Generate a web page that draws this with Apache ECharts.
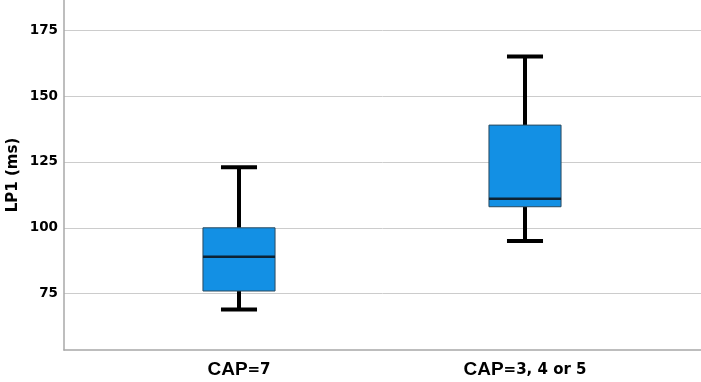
<!DOCTYPE html>
<html>
<head>
<meta charset="utf-8">
<script src="https://cdn.jsdelivr.net/npm/echarts@6/dist/echarts.min.js"></script>
<style>
  html, body { margin: 0; padding: 0; background: #fff; }
  #box { width: 701px; height: 382px; }
</style>
</head>
<body>
<div id="box"></div>
<script>
// 数据
var categories = ['CAP=7', 'CAP=3, 4 or 5'];
var whiskerLow = [69, 95];
var q1 = [76, 108];
var median = [89, 111];
var q3 = [100, 139];
var whiskerHigh = [123, 165];
var yTicks = [75, 100, 125, 150, 175];
var yMin = 53.6, yMax = 186.5;

var chart = echarts.init(document.getElementById('box'));

var boxData = [];
for (var i = 0; i < categories.length; i++) {
    boxData.push([i, whiskerLow[i], q1[i], median[i], q3[i], whiskerHigh[i]]);
}

function renderBox(params, api) {
    var x = api.value(0);
    var lo = api.coord([x, api.value(1)]);
    var b1 = api.coord([x, api.value(2)]);
    var md = api.coord([x, api.value(3)]);
    var b3 = api.coord([x, api.value(4)]);
    var hi = api.coord([x, api.value(5)]);
    var bw = api.size([1, 0])[0] * 0.252;
    var cw = bw / 2;
    var cx = lo[0];
    var whisk = { stroke: '#000', lineWidth: 4 };
    return {
        type: 'group',
        children: [
            { type: 'line', shape: { x1: cx, y1: hi[1], x2: cx, y2: b3[1] }, style: whisk },
            { type: 'line', shape: { x1: cx, y1: b1[1], x2: cx, y2: lo[1] }, style: whisk },
            { type: 'line', shape: { x1: cx - cw / 2, y1: hi[1], x2: cx + cw / 2, y2: hi[1] }, style: whisk },
            { type: 'line', shape: { x1: cx - cw / 2, y1: lo[1], x2: cx + cw / 2, y2: lo[1] }, style: whisk },
            { type: 'rect', shape: { x: cx - bw / 2, y: b3[1], width: bw, height: b1[1] - b3[1] },
              style: { fill: '#1390e4', stroke: '#2b4a5e', lineWidth: 1 } },
            { type: 'line', shape: { x1: cx - bw / 2, y1: md[1], x2: cx + bw / 2, y2: md[1] },
              style: { stroke: '#0d2233', lineWidth: 2.5 } }
        ]
    };
}

var option = {
    animation: false,
    grid: [
        { left: 64, right: 0, top: 0, bottom: 32, outerBoundsMode: 'none' },
        { left: 96, right: 33, top: 0, bottom: 32, outerBoundsMode: 'none' }
    ],
    xAxis: [
        {
            gridIndex: 0, type: 'value', min: 0, max: 1,
            axisLine: { show: true, lineStyle: { color: '#a8a8a8', width: 1.5 } },
            axisTick: { show: false }, axisLabel: { show: false }, splitLine: { show: false }
        },
        {
            gridIndex: 1, type: 'category', data: categories,
            axisLine: { show: false }, axisTick: { show: false },
            axisLabel: {
                margin: 9,
                formatter: function (v) {
                    var k = v.indexOf('=');
                    return '{a|' + v.slice(0, k) + '}{b|' + v.slice(k) + '}';
                },
                rich: {
                    a: { fontFamily: 'Liberation Sans', fontWeight: 'bold', fontSize: 19, color: '#000',
                         lineHeight: 20, verticalAlign: 'bottom' },
                    b: { fontFamily: 'DejaVu Sans', fontWeight: 'bold', fontSize: 15, color: '#000',
                         lineHeight: 20, verticalAlign: 'bottom', padding: [0, 0, 1, 0] }
                }
            }
        }
    ],
    yAxis: [
        {
            gridIndex: 0, type: 'value', min: yMin, max: yMax,
            name: 'LP1 (ms)', nameLocation: 'middle', nameRotate: 90, nameGap: 43,
            nameMoveOverlap: false,
            nameTextStyle: { fontFamily: 'DejaVu Sans', fontWeight: 'bold', fontSize: 15, color: '#000' },
            axisLine: { show: true, lineStyle: { color: '#a8a8a8', width: 1.5 } },
            axisTick: { show: false, customValues: yTicks },
            axisLabel: {
                customValues: yTicks, margin: 6,
                fontFamily: 'DejaVu Sans', fontWeight: 'bold', fontSize: 13.5, color: '#000'
            },
            splitLine: { show: true, lineStyle: { color: '#cccccc', width: 1 } }
        },
        {
            gridIndex: 1, type: 'value', min: yMin, max: yMax, show: false
        }
    ],
    series: [{
        type: 'custom',
        xAxisIndex: 1,
        yAxisIndex: 1,
        renderItem: renderBox,
        encode: { x: 0, y: [1, 2, 3, 4, 5] },
        data: boxData
    }]
};
chart.setOption(option);
</script>
</body>
</html>
